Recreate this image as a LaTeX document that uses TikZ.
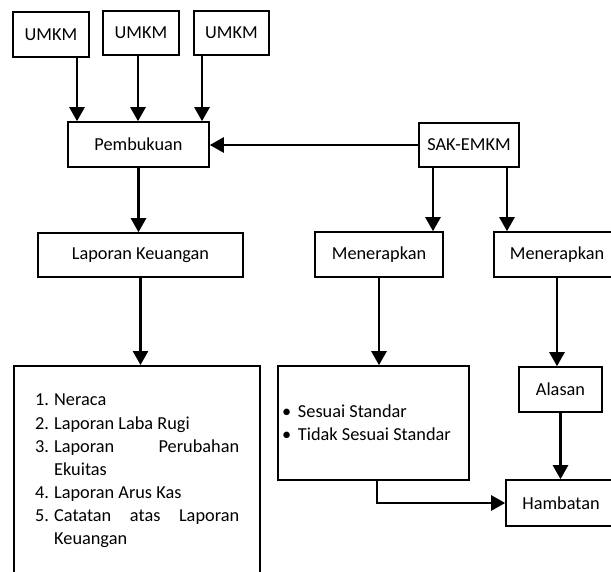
\documentclass[tikz,border=0pt]{standalone}
\usepackage{fontspec}
\setmainfont{Carlito}
\usepackage{tikz}
\usetikzlibrary{arrows.meta}
\usetikzlibrary{positioning}

\tikzset{
    kotak/.style={draw,line width=1.6pt,inner sep=0pt,align=center},
    panah/.style={-{Triangle[length=14pt,width=15pt]},line width=2.6pt},
    garis/.style={line width=2.6pt}
}
\newcommand{\butir}[2]{\hangindent=19pt\hangafter=1\noindent\makebox[19pt][l]{#1}#2\par}

\begin{document}
\begin{tikzpicture}[x=1pt,y=-1pt,font=\fontsize{18.3}{23.1}\selectfont]
        \clip (0,0) rectangle (611,571);
        \node[kotak,minimum width=76pt,minimum height=45pt] (u1) at (51,34.5) {UMKM};
        \node[kotak,minimum width=76pt,minimum height=44pt] (u2) at (141,33) {UMKM};
        \node[kotak,minimum width=75pt,minimum height=44pt] (u3) at (231.5,33) {UMKM};
        \node[kotak,minimum width=141pt,minimum height=45pt] (pemb) at (138.5,144.5) {Pembukuan};
        \node[kotak,minimum width=100pt,minimum height=44pt] (sak) at (469,145) {SAK-EMKM};
        \node[kotak,minimum width=205pt,minimum height=44pt] (lk) at (140.5,255) {Laporan Keuangan};
        \node[kotak,minimum width=128pt,minimum height=45pt] (men1) at (379,254.5) {Menerapkan};
        \node[kotak,minimum width=126pt,minimum height=45pt] (men2) at (557,254.5) {Menerapkan};
        \node[kotak,anchor=north west,minimum width=246pt,minimum height=225pt] (daftar) at (13,365) {};
        \node[anchor=north west,inner sep=0pt,text width=204pt,align=justify] (isi) at (35,394) {%
            \butir{1.}{Neraca}
            \butir{2.}{Laporan Laba Rugi}
            \butir{3.}{Laporan Perubahan Ekuitas}
            \butir{4.}{Laporan Arus Kas}
            \butir{5.}{Catatan atas Laporan Keuangan}};
        \node[kotak,minimum width=191pt,minimum height=114pt,text width=183pt,align=flush left] (sesuai) at (373.5,423) {%
            \makebox[16pt][l]{\textbullet}Sesuai Standar\\
            \makebox[16pt][l]{\textbullet}Tidak Sesuai Standar};
        \node[kotak,minimum width=83pt,minimum height=45pt] (alasan) at (560.5,389.5) {Alasan};
        \node[kotak,minimum width=110pt,minimum height=46pt] (hambat) at (561,503) {Hambatan};

        \draw[panah] ([xshift=26pt]u1.south) -- ([xshift=26pt]u1.south |- pemb.north);
        \draw[panah] ([xshift=-3pt]u2.south) -- ([xshift=-3pt]u2.south |- pemb.north);
        \draw[panah] ([xshift=-29.5pt]u3.south) -- ([xshift=-29.5pt]u3.south |- pemb.north);
        \draw[panah] (sak.west) -- (sak.west -| pemb.east);
        \draw[panah] ([xshift=-36pt]sak.south) -- ([xshift=-36pt]sak.south |- men1.north);
        \draw[panah] ([xshift=38pt]sak.south) -- ([xshift=38pt]sak.south |- men2.north);
        \draw[panah] (pemb.south) -- (pemb.south |- lk.north);
        \draw[panah] (lk.south) -- (lk.south |- daftar.north);
        \draw[panah] (men1.south) -- (men1.south |- sesuai.north);
        \draw[panah] (men2.south) -- (men2.south |- alasan.north);
        \draw[panah] (alasan.south) -- (alasan.south |- hambat.north);
        \draw[panah] ([xshift=3.5pt]sesuai.south) |- (hambat.west);
    \end{tikzpicture}
\end{document}
